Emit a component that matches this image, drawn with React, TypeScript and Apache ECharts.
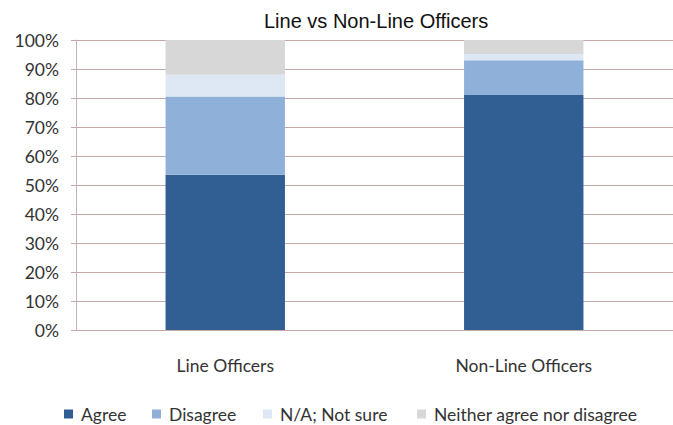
import React, { useEffect, useRef } from "react";
import * as echarts from "echarts";

const categories = ["Line Officers", "Non-Line Officers"];
const agree = [53.5, 81];
const disagree = [27, 12];
const notSure = [7.5, 2.2];
const neither = [12, 4.8];
const yTicks = [0, 10, 20, 30, 40, 50, 60, 70, 80, 90, 100];
const seriesNames = ["Agree", "Disagree", "N/A; Not sure", "Neither agree nor disagree"];

export default function App() {
  const ref = useRef<HTMLDivElement>(null);
  useEffect(() => {
    const chart = echarts.init(ref.current!, null, { renderer: "svg" });
    const font = "Lato, 'Open Sans', sans-serif";
    const mk = (name: string, data: number[], color: string) => ({
      name,
      type: "bar",
      stack: "s",
      data,
      barWidth: "40%",
      itemStyle: { color },
    });
    const legendLefts = [59, 147, 258, 412];
    chart.setOption({
      animation: false,
      backgroundColor: "#fff",
      title: {
        text: "Line vs Non-Line Officers",
        left: 259,
        top: 6,
        textStyle: { fontFamily: "'Liberation Sans', Arial, sans-serif", fontSize: 20, fontWeight: "normal", color: "#111" },
      },
      legend: seriesNames.map((n, i) => ({
        top: 400,
        left: legendLefts[i],
        itemWidth: 9,
        itemHeight: 9,
        itemGap: 0,
        icon: "rect",
        textStyle: { fontFamily: font, fontSize: 17.5, color: "#333", padding: [0, 0, 0, 3] },
        data: [n],
      })),
      grid: { left: 76, width: 604, top: 40, bottom: 95 },
      xAxis: {
        type: "category",
        data: categories,
        axisTick: { show: false },
        axisLine: { show: false },
        axisLabel: { fontFamily: font, fontSize: 17.5, color: "#333", margin: 26 },
      },
      yAxis: {
        type: "value",
        min: 0,
        max: 100,
        interval: 10,
        axisLine: { show: true, lineStyle: { color: "#c4b4b4" } },
        axisTick: { show: true, length: 5, lineStyle: { color: "#c4a9a9" } },
        splitLine: { lineStyle: { color: "#c4a9a9", width: 1 } },
        axisLabel: {
          fontFamily: font,
          fontSize: 17.5,
          color: "#333",
          margin: 17,
          formatter: (v: number) => (yTicks.includes(v) ? v + "%" : ""),
        },
      },
      series: [
        mk(seriesNames[0], agree, "#315f94"),
        mk(seriesNames[1], disagree, "#8fb0d8"),
        mk(seriesNames[2], notSure, "#dde8f4"),
        mk(seriesNames[3], neither, "#d7d7d7"),
      ],
    });
    return () => chart.dispose();
  }, []);
  return <div ref={ref} style={{ width: 673, height: 425, position: "absolute", left: 0, top: 0 }} />;
}
